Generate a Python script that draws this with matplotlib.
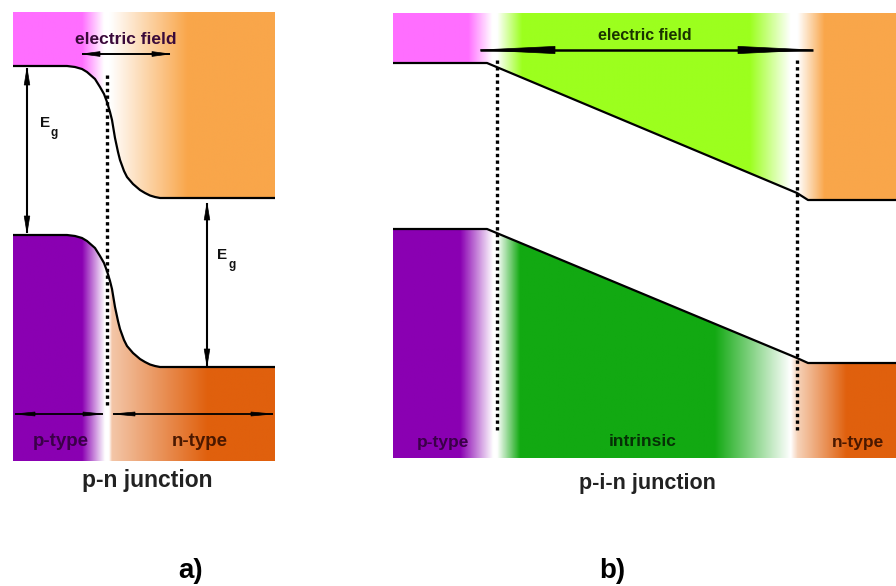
import numpy as np
import matplotlib
matplotlib.use("Agg")
import matplotlib.pyplot as plt
from matplotlib.colors import to_rgb
from matplotlib.patches import Polygon

plt.rcParams["font.family"] = ["Liberation Sans", "DejaVu Sans"]
plt.rcParams["font.weight"] = "bold"

# --- a) p-n junction: band edges (pixel units) ---
pn_x = [13, 60, 67, 75, 82, 87, 95, 100, 104, 107, 110, 112, 115, 118, 120,
        124, 127, 133, 140, 145, 150, 155, 160, 275]
pn_cb = [66, 66, 66, 67, 69, 72, 79, 87, 94, 102, 112, 120, 138, 152, 160,
         171, 177, 184, 190, 193, 195.5, 197, 198, 198]
pn_vb = [235, 235, 235, 236, 238, 241, 248, 256, 263, 271, 281, 289, 307, 321, 329,
         340, 346, 353, 359, 362, 364.5, 366, 367, 367]
pn_top, pn_bottom = 12, 461
pn_junction_x = 107

# --- b) p-i-n junction ---
pin_x = [393, 487, 797, 808, 896]
pin_cb = [63, 63, 193, 200, 200]
pin_vb = [229, 229, 358, 363, 363]
pin_top, pin_bottom = 13, 458
pin_edges_x = [497, 797]

MAGENTA = "#ff6eff"
PURPLE = "#8a00b2"
ORANGE = "#f9a64a"
DARK_ORANGE = "#e0600d"
LIME = "#9cff1e"
GREEN = "#12a912"
WHITE = "#ffffff"

pn_upper_stops = [(13, MAGENTA), (82, MAGENTA), (104, WHITE), (110, WHITE),
                  (188, ORANGE), (275, ORANGE)]
pn_lower_stops = [(13, PURPLE), (82, PURPLE), (105, WHITE), (109, WHITE),
                  (112, "#f3c6a8"), (208, DARK_ORANGE), (275, DARK_ORANGE)]
pin_upper_stops = [(393, MAGENTA), (468, MAGENTA), (492, WHITE), (497, WHITE),
                   (522, LIME), (750, LIME), (791, WHITE), (798, WHITE),
                   (825, ORANGE), (896, ORANGE)]
pin_lower_stops = [(393, PURPLE), (460, PURPLE), (493, WHITE), (497, WHITE),
                   (520, GREEN), (715, GREEN), (791, WHITE), (798, "#f6d2b8"),
                   (847, DARK_ORANGE), (896, DARK_ORANGE)]


def shade(ax, xs, ys, y_edge, stops):
    """Horizontal colour ramp clipped to the area between a band edge and y_edge."""
    x0, x1 = xs[0], xs[-1]
    grid = np.linspace(x0, x1, 600)
    sx = [s[0] for s in stops]
    cols = np.array([to_rgb(s[1]) for s in stops])
    img = np.stack([np.interp(grid, sx, cols[:, k]) for k in range(3)], axis=-1)[None]
    y0, y1 = min(min(ys), y_edge), max(max(ys), y_edge)
    im = ax.imshow(img, extent=(x0, x1, y1, y0), aspect="auto",
                   interpolation="bilinear", zorder=1)
    verts = [(x0, y_edge), (x1, y_edge)] + list(zip(xs[::-1], ys[::-1]))
    clip = Polygon(verts, closed=True, transform=ax.transData, fc="none", ec="none")
    ax.add_patch(clip)
    im.set_clip_path(clip)


def arrow(ax, p0, p1, head_len, head_w, lw):
    """Double arrow drawn as a shaft plus two slim triangular heads (data units)."""
    p0, p1 = np.asarray(p0, float), np.asarray(p1, float)
    d = (p1 - p0) / np.hypot(*(p1 - p0))
    n = np.array([-d[1], d[0]])
    ax.plot([p0[0], p1[0]], [p0[1], p1[1]], color="black", lw=lw, zorder=4,
            solid_capstyle="butt")
    for tip, sgn in [(p0, 1), (p1, -1)]:
        base = tip + sgn * d * head_len
        ax.add_patch(Polygon([tip, base + n * head_w, base - n * head_w],
                             closed=True, fc="black", ec="black", lw=0.5, zorder=4))


fig = plt.figure(figsize=(8.96, 5.86), dpi=100)
ax = fig.add_axes([0, 0, 1, 1])

# coloured regions
shade(ax, pn_x, pn_cb, pn_top, pn_upper_stops)
shade(ax, pn_x, pn_vb, pn_bottom, pn_lower_stops)
shade(ax, pin_x, pin_cb, pin_top, pin_upper_stops)
shade(ax, pin_x, pin_vb, pin_bottom, pin_lower_stops)

# band edges
for xs, ys in [(pn_x, pn_cb), (pn_x, pn_vb), (pin_x, pin_cb), (pin_x, pin_vb)]:
    ax.plot(xs, ys, color="black", lw=1.6, zorder=3, solid_capstyle="butt",
            solid_joinstyle="round")

# junction boundaries
ax.plot([pn_junction_x, pn_junction_x], [75, 405], color="black", lw=2.4,
        ls=(0, (1, 1)), zorder=3)
for xe in pin_edges_x:
    ax.plot([xe, xe], [60, 433], color="black", lw=2.4, ls=(0, (1, 1)), zorder=3)

# arrows
arrow(ax, (27, 68), (27, 233), 17, 2.8, 1.5)
arrow(ax, (207, 203), (207, 366), 17, 2.8, 1.5)
arrow(ax, (82, 54), (170, 54), 18, 2.4, 1.4)
arrow(ax, (15, 414), (103, 414), 20, 2.0, 1.3)
arrow(ax, (113, 414), (273, 414), 22, 2.0, 1.3)
arrow(ax, (480, 50), (813, 50), 75, 3.6, 1.8)

# labels
txt = dict(ha="center", va="center", fontweight="bold", zorder=5)
ax.text(126, 40, "electric field", fontsize=12.5, color="#3a0a3a", **txt)
ax.text(45, 123, "E", fontsize=11, color="#111111", **txt)
ax.text(54, 133, "g", fontsize=8.5, color="#111111", **txt)
ax.text(222, 255, "E", fontsize=11, color="#111111", **txt)
ax.text(232, 265, "g", fontsize=8.5, color="#111111", **txt)
ax.text(61, 441, "p-type", fontsize=13.5, color="#3a0048", **txt)
ax.text(200, 441, "n-type", fontsize=13.5, color="#4a1800", **txt)
ax.text(147, 480, "p-n junction", fontsize=16.5, color="#222222", **txt)

ax.text(645, 35, "electric field", fontsize=11.5, color="#1a3300", **txt)
ax.text(443, 442, "p-type", fontsize=12.5, color="#3a0048", **txt)
ax.text(643, 442, "intrinsic", fontsize=12.5, color="#063006", **txt)
ax.text(858, 442, "n-type", fontsize=12.5, color="#4a1800", **txt)
ax.text(647, 483, "p-i-n junction", fontsize=15.5, color="#222222", **txt)

ax.text(191, 571, "a)", fontsize=20, color="black", **txt)
ax.text(612, 571, "b)", fontsize=20, color="black", **txt)

ax.set_xlim(0, 896)
ax.set_ylim(586, 0)
ax.axis("off")
fig.savefig("out.png", dpi=100)
